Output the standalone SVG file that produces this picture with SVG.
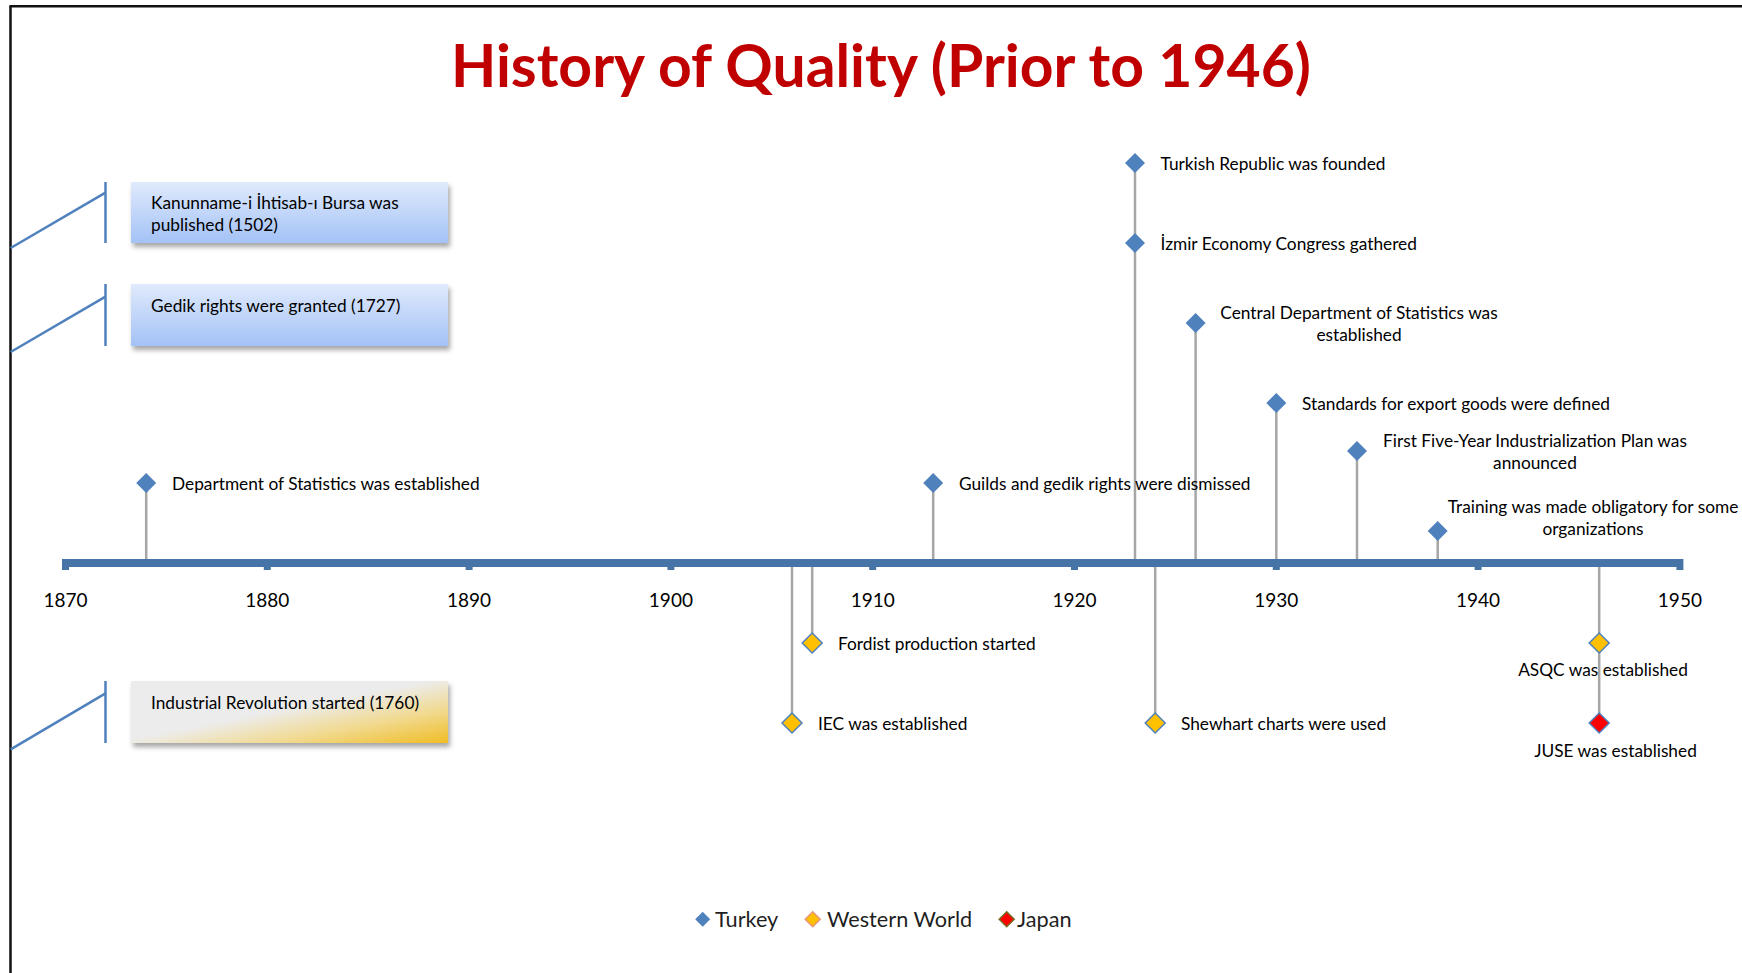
<svg xmlns="http://www.w3.org/2000/svg" width="1742" height="973" viewBox="0 0 1742 973">
  <defs>
    <linearGradient id="boxBlue" x1="0" y1="0" x2="0" y2="1">
      <stop offset="0" stop-color="#e0eafc"/>
      <stop offset="1" stop-color="#a3c2f6"/>
    </linearGradient>
    <linearGradient id="boxGold" x1="0" y1="0" x2="1" y2="1">
      <stop offset="0" stop-color="#ececec"/>
      <stop offset="0.47" stop-color="#ececec"/>
      <stop offset="0.72" stop-color="#f1da92"/>
      <stop offset="1" stop-color="#f0bd25"/>
    </linearGradient>
    <filter id="shadow" x="-5%" y="-20%" width="115%" height="160%">
      <feDropShadow dx="2" dy="4" stdDeviation="2.5" flood-color="#000" flood-opacity="0.35"/>
    </filter>
    <path id="dia" d="M0,-10 L10,0 L0,10 L-10,0 Z"/>
    <path id="diaS" d="M0,-7.5 L7.5,0 L0,7.5 L-7.5,0 Z"/>
  </defs>
  <style>
    text { font-family: Lato, "Liberation Sans", sans-serif; }
    .title { font-weight: bold; font-size: 60px; fill: #c00000; }
    .lbl { font-size: 17.3px; fill: #000; }
    .mid { text-anchor: middle; }
    .year { font-size: 19px; fill: #000; text-anchor: middle; }
    .leg { font-size: 21.7px; fill: #1f1f1f; }
    .box { stroke: none; filter: url(#shadow); }
    .callout { stroke: #4f81bd; stroke-width: 2.5; fill: none; }
    .stem { stroke: #a6a6a6; stroke-width: 2.5; fill: none; }
    .tr { fill: #4f81bd; }
    .ww { fill: #ffc000; stroke: #4f81bd; stroke-width: 1.5; }
    .jp { fill: #ff0000; stroke: #4f81bd; stroke-width: 1.5; }
    .axis { fill: #4674a6; }
  </style>

  <rect x="0" y="0" width="1742" height="973" fill="#ffffff"/>

  <!-- frame: left and top edges -->
  <g id="frame" stroke="#111" stroke-width="2.5" fill="none">
    <line x1="10.5" y1="6" x2="10.5" y2="973"/>
    <line x1="9.5" y1="6.2" x2="1742" y2="6.2"/>
  </g>

  <text id="title" class="title" x="451" y="87" textLength="860" lengthAdjust="spacingAndGlyphs">History of Quality (Prior to 1946)</text>

  <!-- connectors: callout leaders and event stems -->
  <g id="connectors">
    <line class="callout" x1="105.5" y1="182" x2="105.5" y2="243"/>
    <line class="callout" x1="105.5" y1="192.7" x2="10.7" y2="248"/>
    <line class="callout" x1="105.5" y1="284" x2="105.5" y2="346"/>
    <line class="callout" x1="105.5" y1="296.7" x2="10.7" y2="352"/>
    <line class="callout" x1="105.5" y1="681" x2="105.5" y2="743"/>
    <line class="callout" x1="105.5" y1="693.3" x2="10.7" y2="749.3"/>

    <line class="stem" x1="146.2" y1="483" x2="146.2" y2="563"/>
    <line class="stem" x1="933.2" y1="483" x2="933.2" y2="563"/>
    <line class="stem" x1="1135" y1="163" x2="1135" y2="563"/>
    <line class="stem" x1="1195.6" y1="323" x2="1195.6" y2="563"/>
    <line class="stem" x1="1276.3" y1="403" x2="1276.3" y2="563"/>
    <line class="stem" x1="1357" y1="451" x2="1357" y2="563"/>
    <line class="stem" x1="1437.7" y1="531" x2="1437.7" y2="563"/>
    <line class="stem" x1="812.2" y1="563" x2="812.2" y2="643"/>
    <line class="stem" x1="792" y1="563" x2="792" y2="723"/>
    <line class="stem" x1="1155.2" y1="563" x2="1155.2" y2="723"/>
    <line class="stem" x1="1599.2" y1="563" x2="1599.2" y2="723"/>
  </g>

  <!-- time axis 1870-1950 -->
  <g id="axis">
    <rect class="axis" x="65.5" y="559" width="1614.5" height="8"/>
    <rect class="axis" x="62" y="559" width="7" height="11"/>
    <rect class="axis" x="263.8" y="559" width="7" height="11"/>
    <rect class="axis" x="465.6" y="559" width="7" height="11"/>
    <rect class="axis" x="667.4" y="559" width="7" height="11"/>
    <rect class="axis" x="869.2" y="559" width="7" height="11"/>
    <rect class="axis" x="1071" y="559" width="7" height="11"/>
    <rect class="axis" x="1272.8" y="559" width="7" height="11"/>
    <rect class="axis" x="1474.6" y="559" width="7" height="11"/>
    <rect class="axis" x="1676.4" y="559" width="7" height="11"/>
    <text class="year" x="65.5" y="607">1870</text>
    <text class="year" x="267.3" y="607">1880</text>
    <text class="year" x="469.1" y="607">1890</text>
    <text class="year" x="670.9" y="607">1900</text>
    <text class="year" x="872.7" y="607">1910</text>
    <text class="year" x="1074.5" y="607">1920</text>
    <text class="year" x="1276.3" y="607">1930</text>
    <text class="year" x="1478.1" y="607">1940</text>
    <text class="year" x="1679.9" y="607">1950</text>
  </g>

  <!-- callout boxes for earlier milestones -->
  <g id="box-kanunname">
    <rect class="box" x="131" y="182" width="317" height="61" fill="url(#boxBlue)"/>
    <text class="lbl" x="151" y="209">Kanunname-i İhtisab-ı Bursa was</text>
    <text class="lbl" x="151" y="231">published (1502)</text>
  </g>
  <g id="box-gedik">
    <rect class="box" x="131" y="284" width="317" height="62" fill="url(#boxBlue)"/>
    <text class="lbl" x="151" y="312">Gedik rights were granted (1727)</text>
  </g>
  <g id="box-industrial">
    <rect class="box" x="131" y="681" width="317" height="62" fill="url(#boxGold)"/>
    <text class="lbl" x="151" y="709">Industrial Revolution started (1760)</text>
  </g>

  <!-- Turkey events -->
  <g id="ev-dept-stats">
    <use href="#dia" class="tr" x="146.2" y="483"/>
    <text class="lbl" x="172" y="489.5">Department of Statistics was established</text>
  </g>
  <g id="ev-guilds">
    <use href="#dia" class="tr" x="933.2" y="483"/>
    <text class="lbl" x="959" y="489.5">Guilds and gedik rights were dismissed</text>
  </g>
  <g id="ev-republic">
    <use href="#dia" class="tr" x="1135" y="163"/>
    <text class="lbl" x="1160.5" y="169.5">Turkish Republic was founded</text>
  </g>
  <g id="ev-izmir">
    <use href="#dia" class="tr" x="1135" y="243"/>
    <text class="lbl" x="1160.5" y="249.5">İzmir Economy Congress gathered</text>
  </g>
  <g id="ev-central-stats">
    <use href="#dia" class="tr" x="1195.6" y="323"/>
    <text class="lbl mid" x="1359" y="319">Central Department of Statistics was</text>
    <text class="lbl mid" x="1359" y="341">established</text>
  </g>
  <g id="ev-standards">
    <use href="#dia" class="tr" x="1276.3" y="403"/>
    <text class="lbl" x="1302" y="409.5">Standards for export goods were defined</text>
  </g>
  <g id="ev-five-year">
    <use href="#dia" class="tr" x="1357" y="451"/>
    <text class="lbl mid" x="1535" y="447">First Five-Year Industrialization Plan was</text>
    <text class="lbl mid" x="1535" y="469">announced</text>
  </g>
  <g id="ev-training">
    <use href="#dia" class="tr" x="1437.7" y="531"/>
    <text class="lbl mid" x="1593" y="513">Training was made obligatory for some</text>
    <text class="lbl mid" x="1593" y="535">organizations</text>
  </g>

  <!-- Western World events -->
  <g id="ev-fordist">
    <use href="#dia" class="ww" x="812.2" y="643"/>
    <text class="lbl" x="838" y="649.5">Fordist production started</text>
  </g>
  <g id="ev-iec">
    <use href="#dia" class="ww" x="792" y="723"/>
    <text class="lbl" x="818" y="729.5">IEC was established</text>
  </g>
  <g id="ev-shewhart">
    <use href="#dia" class="ww" x="1155.2" y="723"/>
    <text class="lbl" x="1181" y="729.5">Shewhart charts were used</text>
  </g>
  <g id="ev-asqc">
    <use href="#dia" class="ww" x="1599.2" y="643"/>
    <text class="lbl mid" x="1603" y="675.5">ASQC was established</text>
  </g>

  <!-- Japan event -->
  <g id="ev-juse">
    <use href="#dia" class="jp" x="1599.2" y="723"/>
    <text class="lbl mid" x="1615.5" y="757">JUSE was established</text>
  </g>

  <!-- legend -->
  <g id="legend">
    <use href="#diaS" x="702.7" y="919.3" fill="#4f81bd"/>
    <text class="leg" x="715" y="927">Turkey</text>
    <use href="#diaS" x="812.7" y="919.3" fill="#ffc000" stroke="#e8967a" stroke-width="1.5"/>
    <text class="leg" x="827" y="927">Western World</text>
    <use href="#diaS" x="1006.7" y="919.3" fill="#ff0000" stroke="#7a6a20" stroke-width="1.5"/>
    <text class="leg" x="1017" y="927">Japan</text>
  </g>
</svg>
